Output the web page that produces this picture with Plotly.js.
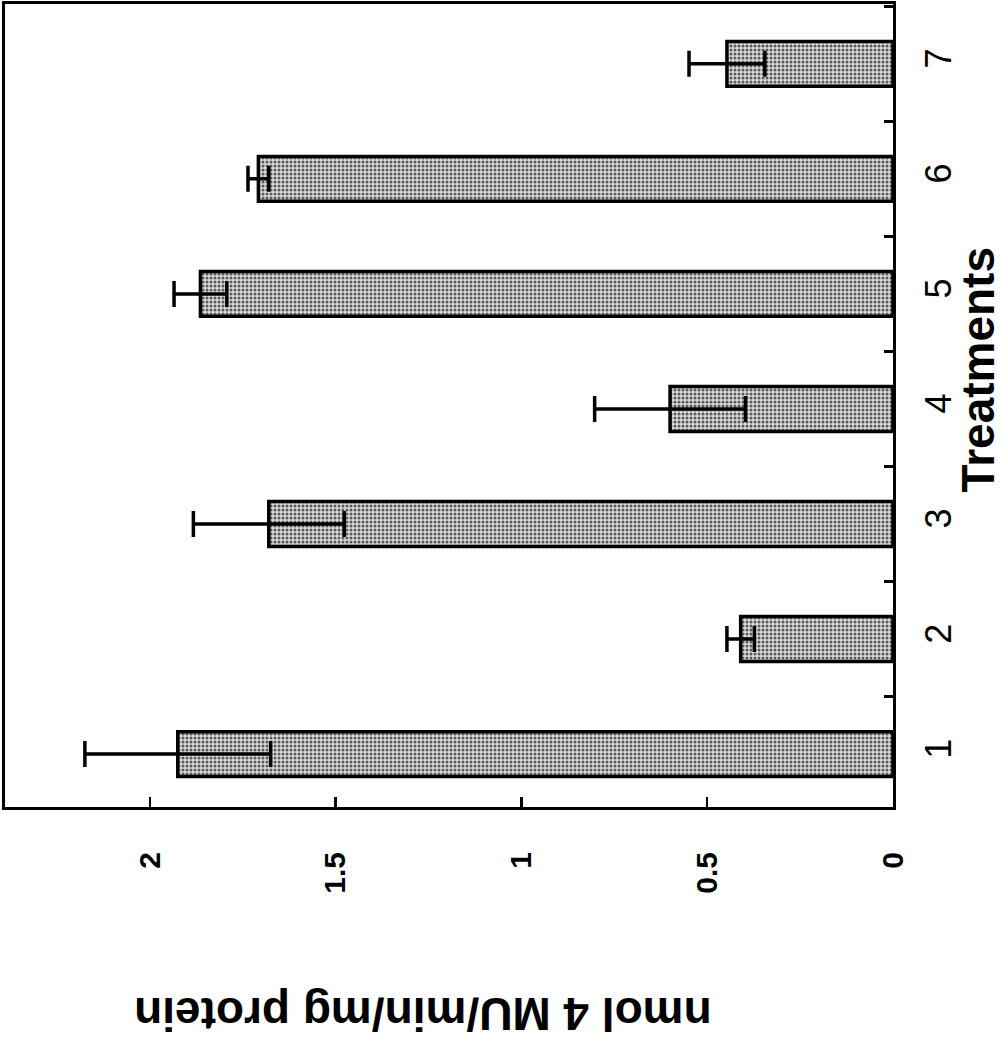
<!DOCTYPE html>
<html>
<head>
<meta charset="utf-8">
<script src="https://cdn.plot.ly/plotly-3.0.1.min.js"></script>
<style>
  html, body { margin: 0; padding: 0; background: #ffffff; }
  #chart { width: 1006px; height: 1043px; }
</style>
</head>
<body>
<div id="chart"></div>
<script>
// Data read from the (rotated) figure
const treatments = ['1', '2', '3', '4', '5', '6', '7'];
const activity = [1.925, 0.41, 1.68, 0.60, 1.864, 1.708, 0.447];
const activityErr = [0.25, 0.037, 0.203, 0.203, 0.071, 0.028, 0.102];
const valueTicks = [0, 0.5, 1, 1.5, 2];
const valueTickText = ['0', '0.5', '1', '1.5', '2'];
const valueTitle = 'nmol 4 MU/min/mg protein';
const categoryTitle = 'Treatments';

const FONT = '"Liberation Sans", Arial, Helvetica, sans-serif';

const trace = {
  type: 'bar',
  orientation: 'h',
  y: treatments,
  x: activity,
  width: 0.39,
  marker: {
    color: '#d4d4d4',
    line: { color: '#000000', width: 3.5 },
    pattern: { shape: '.', fgcolor: '#5a5a5a', bgcolor: '#dadada', size: 4, solidity: 0.45 }
  },
  error_x: {
    type: 'data',
    array: activityErr,
    symmetric: true,
    color: '#000000',
    thickness: 3.5,
    width: 13
  },
  hoverinfo: 'skip'
};

const layout = {
  width: 1006,
  height: 1043,
  margin: { l: 5, r: 113, t: 4, b: 236 },
  paper_bgcolor: '#ffffff',
  plot_bgcolor: '#ffffff',
  showlegend: false,
  font: { family: FONT, color: '#000000' },
  xaxis: {
    range: [2.39, 0],
    side: 'bottom',
    tickvals: valueTicks,
    ticktext: valueTickText,
    tickangle: -90,
    ticks: 'inside',
    ticklen: 10,
    tickwidth: 2.5,
    tickcolor: '#000000',
    ticklabelstandoff: 30,
    tickfont: { family: FONT, size: 30, color: '#000000', weight: 'bold' },
    showline: true,
    linecolor: '#000000',
    linewidth: 3,
    mirror: true,
    showgrid: false,
    zeroline: false
  },
  yaxis: {
    type: 'category',
    categoryorder: 'array',
    categoryarray: treatments,
    range: [-0.46, 6.52],
    side: 'right',
    tickangle: -90,
    ticks: 'inside',
    tickson: 'boundaries',
    ticklen: 9,
    tickwidth: 2.5,
    tickcolor: '#000000',
    ticklabelstandoff: 12,
    tickfont: { family: 'Liberation Sans', size: 36, color: '#000000' },
    showline: true,
    linecolor: '#000000',
    linewidth: 3,
    mirror: true,
    showgrid: false,
    zeroline: false
  },
  annotations: [
    {
      text: '<b>' + valueTitle + '</b>',
      xref: 'paper', yref: 'paper',
      x: 0.47, y: -0.258,
      xanchor: 'center', yanchor: 'middle',
      textangle: 180,
      showarrow: false,
      font: { family: FONT, size: 46, color: '#000000' }
    },
    {
      text: '<b>' + categoryTitle + '</b>',
      xref: 'paper', yref: 'paper',
      x: 1.096, y: 0.544,
      xanchor: 'center', yanchor: 'middle',
      textangle: -90,
      showarrow: false,
      font: { family: FONT, size: 46, color: '#000000' }
    }
  ]
};

Plotly.newPlot('chart', [trace], layout, { staticPlot: true, displayModeBar: false });
</script>
</body>
</html>
